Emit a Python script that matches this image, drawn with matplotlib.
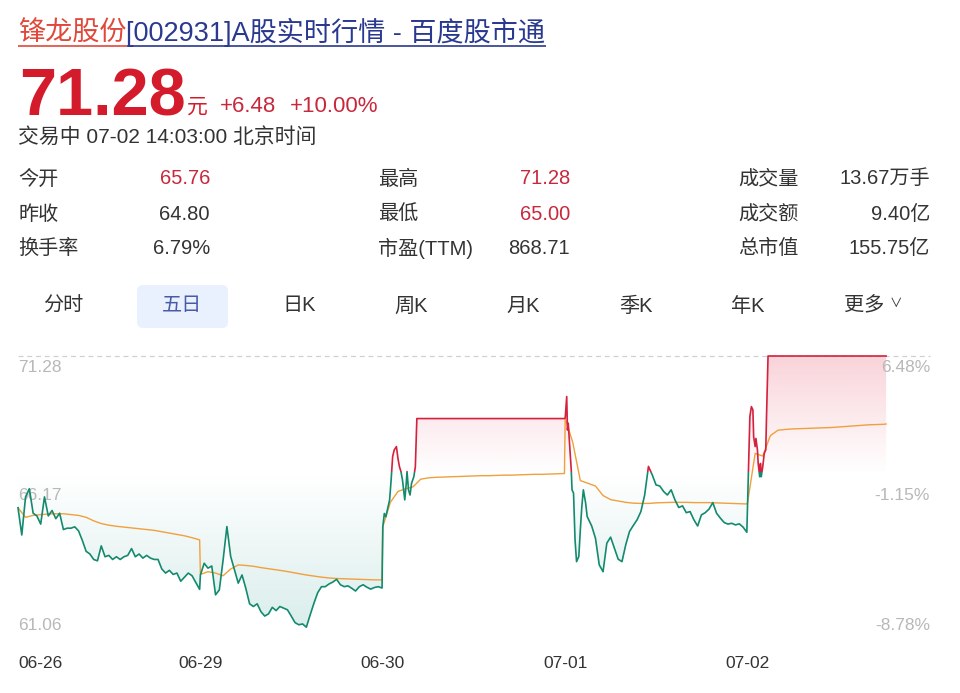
import numpy as np
import matplotlib.pyplot as plt
from matplotlib.patches import Polygon, Rectangle, FancyBboxPatch
from matplotlib.colors import to_rgb

plt.rcParams['font.family'] = ['Liberation Sans', 'Noto Sans CJK SC', 'DejaVu Sans']

# ---------------- 数据 ----------------
day_labels = ['06-26', '06-29', '06-30', '07-01', '07-02']
base_price = 66.94                      # 右侧百分比的基准价
y_ticks = [71.28, 66.17, 61.06]
y_tick_labels = ['71.28', '66.17', '61.06']
pct_labels = ['6.48%', '-1.15%', '-8.78%']

title_name = '锋龙股份'
title_rest = '[002931]A股实时行情 - 百度股市通'
last_price = '71.28'
change_abs = '+6.48'
change_pct = '+10.00%'
status_line = '交易中 07-02 14:03:00 北京时间'

stat_labels = [['今开', '昨收', '换手率'], ['最高', '最低', '市盈(TTM)'], ['成交量', '成交额', '总市值']]
stat_values = [['65.76', '64.80', '6.79%'], ['71.28', '65.00', '868.71'], ['13.67万手', '9.40亿', '155.75亿']]
stat_red = [[True, False, False], [True, True, False], [False, False, False]]

tabs = ['分时', '五日', '日K', '周K', '月K', '季K', '年K', '更多']
active_tab = 1

# 分时价格（每天 241 分钟，t 为当天分钟序号）
t_0626 = list(range(0, 241, 5))
p_0626 = [65.70, 64.70, 66.10, 66.40, 65.50, 65.40, 65.10, 66.10, 65.40, 65.60,
          65.30, 65.50, 64.90, 64.95, 64.95, 65.00, 64.85, 64.50, 64.10, 64.00,
          63.80, 63.75, 64.30, 63.90, 63.95, 63.80, 63.90, 63.80, 63.90, 63.95,
          64.20, 63.90, 64.00, 63.85, 63.95, 63.85, 63.80, 63.80, 63.45, 63.30,
          63.40, 63.25, 63.30, 63.00, 63.15, 63.30, 63.20, 62.95, 62.70]

t_0629 = list(range(0, 241, 5))
p_0629 = [63.23, 63.66, 63.48, 63.56, 62.50, 62.68, 63.78, 65.01, 63.91, 63.42,
          62.93, 63.23, 62.74, 62.17, 62.07, 62.17, 61.88, 61.72, 61.80, 62.04,
          61.92, 62.07, 62.01, 61.95, 61.72, 61.48, 61.40, 61.43, 61.31, 61.76,
          62.19, 62.58, 62.80, 62.80, 62.90, 62.97, 63.07, 62.87, 62.80, 62.83,
          62.74, 62.64, 62.80, 62.87, 62.78, 62.71, 62.77, 62.80, 62.75]

t_0630 = [0, 2, 4, 7, 9, 11, 13, 15, 18, 20, 22, 24, 26, 29, 31, 32, 34, 36, 38, 41, 43, 45, 240]
p_0630 = [65.00, 65.49, 65.37, 65.74, 65.99, 66.72, 67.58, 67.82, 67.95, 67.52,
          67.21, 67.03, 66.72, 65.99, 66.60, 67.03, 66.35, 66.17, 66.60, 66.84,
          67.21, 68.98, 68.98]

t_0701 = [0, 2, 3, 4, 6, 8, 9, 11, 13, 15, 18, 20, 22, 24, 27, 29] + list(range(35, 241, 5))
p_0701 = [69.00, 69.79, 68.56, 68.81, 67.95, 67.09, 66.36, 66.24, 64.52, 63.72,
          63.91, 64.89, 65.75, 66.36, 65.87, 65.38,
          65.03, 64.58, 63.60, 63.35, 64.40, 64.62, 64.21, 63.81, 63.72, 64.34,
          64.83, 65.05, 65.26, 65.56, 66.17, 67.22, 66.91, 66.54, 66.50, 66.30,
          66.17, 66.36, 65.99, 65.71, 65.77, 65.52, 65.56, 65.26, 65.03, 65.44,
          65.52, 65.65, 65.89, 65.50, 65.32, 65.16, 65.10, 65.13, 65.07, 65.11,
          64.99, 64.80]

t_0702 = [0, 2, 3, 5, 7, 8, 10, 11, 13, 14, 16, 17, 18, 20, 22, 24, 25, 27, 183]
p_0702 = [65.86, 67.83, 69.05, 69.42, 69.30, 68.31, 67.95, 68.25, 67.83, 67.33,
          66.84, 67.33, 66.84, 67.21, 67.70, 67.83, 69.05, 71.28, 71.28]

# 均价线
ta_full = list(range(0, 241, 10))
a_0626 = [65.70, 65.35, 65.42, 65.45, 65.47, 65.48, 65.48, 65.45, 65.42, 65.35,
          65.22, 65.12, 65.06, 65.02, 64.99, 64.96, 64.93, 64.90, 64.87, 64.82,
          64.77, 64.72, 64.67, 64.60, 64.52]
a_0629 = [63.25, 63.35, 63.30, 63.20, 63.45, 63.60, 63.58, 63.55, 63.50, 63.46,
          63.42, 63.38, 63.33, 63.28, 63.23, 63.19, 63.15, 63.12, 63.10, 63.09,
          63.08, 63.07, 63.06, 63.05, 63.05]
a_0630 = [65.00, 65.90, 66.30, 66.40, 66.47, 66.75, 66.80, 66.82, 66.83, 66.84,
          66.85, 66.86, 66.87, 66.88, 66.88, 66.89, 66.90, 66.90, 66.91, 66.92,
          66.93, 66.93, 66.94, 66.95, 66.96]
a_0701 = [69.00, 68.10, 66.70, 66.60, 66.50, 66.15, 66.00, 65.95, 65.90, 65.87,
          65.86, 65.86, 65.88, 65.89, 65.90, 65.90, 65.90, 65.89, 65.89, 65.89,
          65.88, 65.87, 65.86, 65.85, 65.84]
ta_0702 = list(range(0, 181, 10)) + [183]
a_0702 = [65.90, 67.70, 67.60, 68.35, 68.55, 68.58, 68.60, 68.61, 68.62, 68.63,
          68.64, 68.65, 68.67, 68.69, 68.71, 68.73, 68.75, 68.76, 68.77, 68.78]

price_days = [(t_0626, p_0626), (t_0629, p_0629), (t_0630, p_0630), (t_0701, p_0701), (t_0702, p_0702)]
avg_days = [(ta_full, a_0626), (ta_full, a_0629), (ta_full, a_0630), (ta_full, a_0701), (ta_0702, a_0702)]

# ---------------- 颜色 ----------------
RED = '#d4213d'
GREEN = '#138a6e'
ORANGE = '#f0a03c'
TXT = '#333333'
VAL_RED = '#c8283c'
GRAY = '#b8b8b8'

W, H = 960, 693
DAY = 241
N = 5 * DAY


def series(days):
    xs, ys = [], []
    for d, (t, v) in enumerate(days):
        xs += [d * DAY + m for m in t]
        ys += v
    return np.array(xs, float), np.array(ys, float)


fig = plt.figure(figsize=(W / 100, H / 100), dpi=100)
renderer = fig.canvas.get_renderer()

# ---------------- 头部（像素坐标） ----------------
bg = fig.add_axes([0, 0, 1, 1])
bg.set_xlim(0, W)
bg.set_ylim(H, 0)
bg.axis('off')


def underline(txt, y, color):
    bb = txt.get_window_extent(renderer)
    bg.plot([bb.x0, bb.x1], [y, y], color=color, lw=1.2, solid_capstyle='butt')
    return bb


t1 = bg.text(18, 41, title_name, color='#e0483c', fontsize=19.5, va='baseline')
bb1 = underline(t1, 46, '#e0483c')
t2 = bg.text(bb1.x1, 41, title_rest, color='#2a3990', fontsize=19.5, va='baseline')
underline(t2, 46, '#2a3990')

bg.text(19, 116, last_price, color='#d41b2c', fontsize=48, fontweight='bold', va='baseline')
bg.text(187, 113, '元', color='#d41b2c', fontsize=15, va='baseline')
bg.text(220, 112, change_abs, color=VAL_RED, fontsize=16, va='baseline')
bg.text(290, 112, change_pct, color=VAL_RED, fontsize=16, va='baseline')
bg.text(18, 137, status_line, color=TXT, fontsize=15, va='center')

col_label_x = [18, 378, 738]
col_value_x = [210, 570, 930]
row_y = [179, 214, 248]
for c in range(3):
    for r in range(3):
        bg.text(col_label_x[c], row_y[r], stat_labels[c][r], color=TXT, fontsize=14.5, va='center')
        bg.text(col_value_x[c], row_y[r], stat_values[c][r], color=VAL_RED if stat_red[c][r] else TXT,
                fontsize=14.5, va='center', ha='right')

tab_x = [63, 182, 299, 411, 523, 636, 748, 864]
bg.add_patch(FancyBboxPatch((143, 291), 79, 31, boxstyle='round,pad=6', fc='#e8f1fd', ec='none'))
for i, (name, x) in enumerate(zip(tabs, tab_x)):
    bg.text(x, 306, name, color='#4a5aa8' if i == active_tab else TXT, fontsize=14.5,
            va='center', ha='center')
bg.text(tab_x[-1] + 32, 304, '∨', color=TXT, fontsize=9, va='center', ha='center')

# ---------------- 五日分时图 ----------------
ax = fig.add_axes([18 / W, 1 - 634 / H, 912 / W, 278 / H])
ax.axis('off')

x, p = series(price_days)
xa, pa = series(avg_days)
y_top, y_mid, y_bot = y_ticks


def gradient_fill(upper, lower, y0, y1, color, a_top, a_bottom):
    verts = list(zip(x, upper)) + list(zip(x[::-1], lower[::-1]))
    poly = Polygon(verts, closed=True, transform=ax.transData, fc='none', ec='none')
    ax.add_patch(poly)
    rgba = np.zeros((256, 1, 4))
    rgba[..., :3] = to_rgb(color)
    rgba[..., 3] = np.linspace(a_top, a_bottom, 256)[:, None]
    im = ax.imshow(rgba, extent=(0, N, y0, y1), origin='upper', aspect='auto',
                   interpolation='bilinear', zorder=1)
    im.set_clip_path(poly)


base = np.full_like(p, base_price)
gradient_fill(np.maximum(p, base_price), base, base_price, y_top, '#e8566e', 0.26, 0.0)
gradient_fill(base, np.minimum(p, base_price), y_bot, base_price, '#3aa59b', 0.0, 0.2)

ax.axhline(y_top, color='#d0d0d0', lw=0.9, ls=(0, (4, 3)), clip_on=False, zorder=2)

# 价格线：高于分界为红色，低于为绿色
split = 67.0
ln_r, = ax.plot(x, p, color=RED, lw=1.2, zorder=5)
ln_r.set_clip_path(Rectangle((-10, split), N + 20, y_top - split + 1, transform=ax.transData))
ln_g, = ax.plot(x, p, color=GREEN, lw=1.2, zorder=5)
ln_g.set_clip_path(Rectangle((-10, y_bot - 1), N + 20, split - y_bot + 1, transform=ax.transData))

ax.plot(xa, pa, color=ORANGE, lw=1.0, zorder=4)

ax.set_xlim(0, N)
ax.set_ylim(y_bot, y_top)

# 左右刻度文字
vas = ['top', 'center', 'bottom']
offs = [-3, 0, 1]
for yv, lab, pct, va, off in zip(y_ticks, y_tick_labels, pct_labels, vas, offs):
    ax.annotate(lab, (0, yv), xytext=(0, off), textcoords='offset points', ha='left', va=va,
                color=GRAY, fontsize=12.5, zorder=3)
    ax.annotate(pct, (N, yv), xytext=(0, off), textcoords='offset points', ha='right', va=va,
                color=GRAY, fontsize=12.5, zorder=3)

# 日期
for d, lab in enumerate(day_labels):
    ax.text(d * DAY, -29 / 278, lab, transform=ax.get_xaxis_transform(),
            ha='left' if d == 0 else 'center', va='center', color=TXT, fontsize=12.5)

fig.savefig('out.png', dpi=100)
